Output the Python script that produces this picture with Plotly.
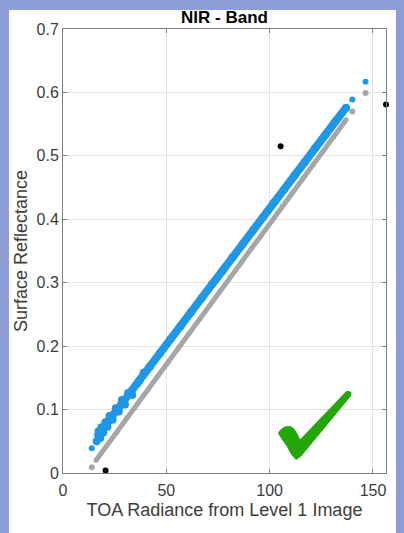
import plotly.graph_objects as go

# ---- data ----
gray_x = [16, 21, 26, 31, 36, 41, 46, 51, 56, 61, 66, 71, 76, 81, 86, 91, 96, 101, 106, 111, 116, 121, 126, 131, 136, 137]
gray_y = [0.020, 0.042, 0.064, 0.087, 0.109, 0.131, 0.153, 0.175, 0.198, 0.220, 0.242, 0.264, 0.286, 0.309, 0.331,
          0.353, 0.375, 0.397, 0.420, 0.442, 0.464, 0.486, 0.508, 0.530, 0.553, 0.557]
gray_iso_x = [13.9, 140.0, 146.4]
gray_iso_y = [0.009, 0.570, 0.599]

blue_x = [17, 22, 27, 32, 37, 42, 47, 52, 57, 62, 67, 72, 77, 82, 87, 92, 97, 102, 107, 112, 117, 122, 127, 132, 137]
blue_y = [0.060, 0.082, 0.103, 0.125, 0.146, 0.168, 0.189, 0.211, 0.232, 0.254, 0.275, 0.297, 0.318, 0.340, 0.361,
          0.383, 0.404, 0.426, 0.447, 0.469, 0.490, 0.512, 0.533, 0.555, 0.576]
blue_scatter_x = [16.3, 17.2, 18.0, 18.6, 19.5, 20.5, 21.5, 22.5, 24.0, 25.5, 27.0, 28.5, 30.0, 31.5, 33.5, 36.0, 39.0]
blue_scatter_y = [0.050, 0.066, 0.055, 0.072, 0.064, 0.080, 0.073, 0.090, 0.084, 0.102, 0.097, 0.115, 0.108, 0.126, 0.123, 0.141, 0.158]
blue_iso_x = [13.9, 140.0, 146.4]
blue_iso_y = [0.039, 0.589, 0.617]

black_x = [20.6, 105.3, 156.3]
black_y = [0.004, 0.515, 0.581]

x_ticks = [0, 50, 100, 150]
y_ticks = [0, 0.1, 0.2, 0.3, 0.4, 0.5, 0.6, 0.7]

BLUE = "#1e98e6"
GRAY = "#a6a6a6"
FONT = "Liberation Sans, Arial"

W, H = 404, 533
ML, MR, MT, MB = 63, 18, 29, 60
PW, PH = W - ML - MR, H - MT - MB

def px(x, y):
    return (x - ML) / PW, (H - MB - y) / PH

fig = go.Figure()
fig.add_trace(go.Scatter(x=gray_x, y=gray_y, mode="lines+markers",
                         line=dict(color=GRAY, width=5), marker=dict(color=GRAY, size=5)))
fig.add_trace(go.Scatter(x=gray_iso_x, y=gray_iso_y, mode="markers", marker=dict(color=GRAY, size=6)))
fig.add_trace(go.Scatter(x=blue_x, y=blue_y, mode="lines+markers",
                         line=dict(color=BLUE, width=8), marker=dict(color=BLUE, size=8)))
fig.add_trace(go.Scatter(x=blue_scatter_x, y=blue_scatter_y, mode="markers", marker=dict(color=BLUE, size=8)))
fig.add_trace(go.Scatter(x=blue_iso_x, y=blue_iso_y, mode="markers", marker=dict(color=BLUE, size=6)))
fig.add_trace(go.Scatter(x=black_x, y=black_y, mode="markers", marker=dict(color="black", size=6), cliponaxis=False))

# white panel
x0, _ = px(9, 0)
x1, _ = px(396, 0)
_, y1 = px(0, 10)
_, y0 = px(0, 545)
shapes = [dict(type="rect", xref="paper", yref="paper", x0=x0, x1=x1, y0=y0, y1=y1,
               fillcolor="white", line=dict(width=0), layer="below")]

# check mark decoration (pixel outline converted to paper coordinates)
chk = [(278.5, 433), (281, 429.5), (285, 427), (290, 426.5), (294, 429), (297, 434), (300, 440),
       (347, 391), (351, 392.5), (350.5, 396), (301, 456), (296, 459.5), (292, 455), (287, 446), (281, 437.5)]
path = "M " + " L ".join(f"{px(a, b)[0]:.4f},{px(a, b)[1]:.4f}" for a, b in chk) + " Z"
shapes.append(dict(type="path", xref="paper", yref="paper", path=path,
                   fillcolor="#22a60a", line=dict(color="#22a60a", width=1), layer="above"))

axis_common = dict(showgrid=True, gridcolor="#e3e3e3", gridwidth=1, zeroline=False,
                   showline=True, linecolor="#808080", linewidth=1, mirror="ticks",
                   ticks="inside", ticklen=4, tickcolor="#808080",
                   tickfont=dict(family=FONT, size=16, color="#3c3c3c"))

fig.update_layout(
    width=W, height=H,
    margin=dict(l=ML, r=MR, t=MT, b=MB),
    paper_bgcolor="#8e9dd6", plot_bgcolor="white",
    showlegend=False, shapes=shapes,
    title=dict(text="<b>NIR - Band</b>", x=px(224.5, 0)[0], xref="paper", xanchor="center",
               y=1 - 17 / H, yanchor="middle", yref="container",
               font=dict(family=FONT, size=17, color="black")),
    xaxis=dict(range=[0, 156.3], tickvals=x_ticks, ticklabelstandoff=3,
               title=dict(text="TOA Radiance from Level 1 Image", standoff=5,
                          font=dict(family=FONT, size=18, color="#3c3c3c")),
               **axis_common),
    yaxis=dict(range=[0, 0.7], tickvals=y_ticks,
               title=dict(text="Surface Reflectance", standoff=4,
                          font=dict(family=FONT, size=18, color="#3c3c3c")),
               **axis_common),
)

fig.write_html("out.html", config={"displayModeBar": False},
               post_script="document.body.style.margin='0';document.body.style.overflow='hidden';")
